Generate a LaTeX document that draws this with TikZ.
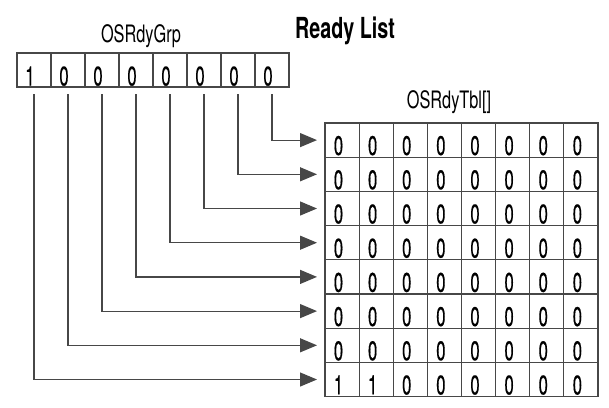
\documentclass[tikz,border=0pt]{standalone}
\usepackage{fontspec}
\setmainfont{TeX Gyre Heros}[FakeStretch=0.68]
\newfontfamily\digitfont{TeX Gyre Heros}[FakeStretch=0.62,FakeBold=0.4]
\usetikzlibrary{arrows.meta}
\tikzset{
  linecol/.style={draw=black!72, line width=1.2pt},
  cellbox/.style={linecol, rectangle, minimum width=34.1pt, minimum height=34.2pt, inner sep=0pt, outer sep=0pt},
  grpbox/.style={linecol, rectangle, minimum width=34pt, minimum height=34pt, inner sep=0pt, outer sep=0pt},
  digit/.style={inner sep=0pt, anchor=base, font=\digitfont\fontsize{27}{27}\selectfont},
  title/.style={inner sep=0pt, anchor=base, font=\fontsize{24}{24}\selectfont},
  connector/.style={draw=black!72, line width=1.2pt, -{Triangle[length=17pt,width=14pt]}}
}
\begin{document}
\begin{tikzpicture}[x=1pt,y=-1pt]
\useasboundingbox (0,0) rectangle (609,407);
% labels
\node[title] (grplabel) at (141,42) {OSRdyGrp};
\node[inner sep=0pt, anchor=base west, font=\fontsize{29}{29}\selectfont\bfseries] (ready) at (295,38.5) {Ready List};
\node[title] (tbllabel) at (449,108) {OSRdyTbl[]};
% OSRdyGrp cells
\foreach \i/\v in {0/1,1/0,2/0,3/0,4/0,5/0,6/0,7/0} {
  \node[grpbox] (g\i) at (34+34*\i,70) {};
  \node[digit] (gd\i) at (30+34*\i,85.5) {\v};
}
% OSRdyTbl cells
\foreach \r in {0,...,7} {
  \foreach \c in {0,...,7} {
    \pgfmathtruncatemacro{\val}{(\r==7 && \c<2) ? 1 : 0}
    \node[cellbox] (t\r-\c) at ({342.06+34.125*\c},{140.1+34.2*\r}) {};
    \node[digit] (td\r-\c) at ({338.5+34.125*\c},{155+34.2*\r}) {\val};
  }
}
% connectors
\foreach \i in {0,...,7} {
  \pgfmathtruncatemacro{\r}{7-\i}
  \draw[connector] ([yshift=-7pt]g\i.south) |- ([xshift=-8pt]t\r-0.west);
}
\end{tikzpicture}
\end{document}
